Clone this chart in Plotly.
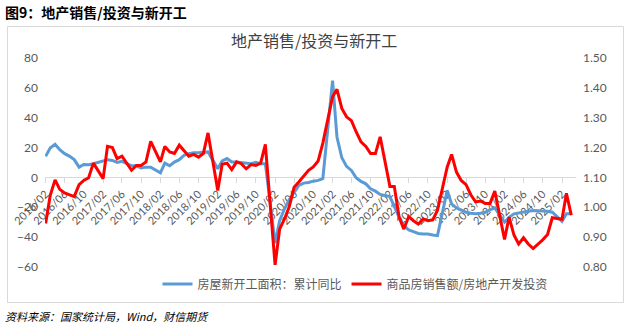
import plotly.graph_objects as go

# Monthly observations (January is merged into the Jan-Feb release, so it is absent)
months = [f"{y}-{m:02d}-01" for y in range(2016, 2025) for m in range(2, 13)] + [
    "2025-02-01", "2025-03-01", "2025-04-01"]

# 房屋新开工面积：累计同比 (%), left axis
new_starts_yoy = [
    14.1, 19.7, 22.2, 18.6, 15.9, 14.3, 11.9, 6.9, 8.7, 8.5, 9.2,          # 2016
    11.4, 11.9, 11.4, 10.1, 10.8, 9.2, 7.8, 7.8, 6.3, 6.9, 6.9,            # 2017
    3.1, 9.6, 7.8, 10.3, 11.9, 14.8, 15.9, 16.6, 16.6, 16.6, 17.1,         # 2018
    5.8, 11.0, 12.6, 10.3, 10.3, 9.9, 9.6, 9.2, 10.1, 9.2, 9.2,            # 2019
    -44.0, -28.9, -21.0, -15.0, -9.9, -5.4, -3.8, -3.4, -2.5, -2.0, -0.9,  # 2020
    64.8, 27.1, 13.2, 7.4, 4.7, -0.2, -2.7, -4.3, -7.6, -9.2, -11.4,       # 2021
    -12.8, -19.5, -26.7, -32.3, -35.2, -36.3, -37.5, -37.9, -37.9, -38.6, -39.0,  # 2022
    -8.7, -17.7, -20.4, -21.7, -23.3, -24.0, -24.4, -24.0, -23.3, -21.7, -20.4,   # 2023
    -30.0, -26.7, -24.4, -24.0, -23.3, -22.7, -22.2, -22.2, -22.2, -22.7, -23.3,  # 2024
    -29.4, -24.4, -24.4,                                                   # 2025
]

# 商品房销售额/房地产开发投资 (ratio), right axis
sales_to_invest = [
    0.946, 1.039, 1.092, 1.060, 1.048, 1.042, 1.036, 1.076, 1.090, 1.099, 1.148,  # 2016
    1.096, 1.204, 1.200, 1.163, 1.171, 1.146, 1.124, 1.140, 1.140, 1.152, 1.221,  # 2017
    1.152, 1.204, 1.185, 1.180, 1.208, 1.189, 1.171, 1.177, 1.168, 1.180, 1.249,  # 2018
    1.056, 1.144, 1.148, 1.126, 1.152, 1.146, 1.129, 1.143, 1.140, 1.148, 1.211,  # 2019
    0.807, 0.927, 0.961, 1.002, 1.067, 1.085, 1.103, 1.124, 1.135, 1.155, 1.215,  # 2020
    1.370, 1.395, 1.331, 1.303, 1.290, 1.253, 1.219, 1.204, 1.180, 1.180, 1.236,  # 2021
    1.070, 1.070, 0.966, 0.927, 0.969, 0.955, 0.944, 0.961, 0.955, 0.958, 0.990,  # 2022
    1.135, 1.177, 1.118, 1.090, 1.076, 1.042, 1.018, 1.021, 1.013, 1.013, 1.054,  # 2023
    0.892, 0.967, 0.907, 0.877, 0.898, 0.877, 0.862, 0.876, 0.891, 0.909, 0.965,  # 2024
    0.960, 1.047, 0.974,                                                          # 2025
]

BLUE = "#5B9BD5"
RED = "#FF0000"
GREY_TXT = "#595959"
AXIS_GREY = "#D9D9D9"
BASE_FONT = "Lato, 'Noto Sans CJK SC', sans-serif"
CJK_FONT = "'Noto Sans CJK SC', sans-serif"

W, H = 631, 324
PL, PR, PT, PB = 45, 576, 58, 267  # plot-area edges in pixels


def fx(px):
    return (px - PL) / (PR - PL)


def fy(py):
    return (PB - py) / (PB - PT)


fig = go.Figure()
fig.add_trace(go.Scatter(
    x=months, y=new_starts_yoy, name="房屋新开工面积：累计同比",
    mode="lines", line=dict(color=BLUE, width=3), yaxis="y"))
fig.add_trace(go.Scatter(
    x=months, y=sales_to_invest, name="商品房销售额/房地产开发投资",
    mode="lines", line=dict(color=RED, width=3), yaxis="y2"))

fig.update_layout(
    width=W, height=H,
    margin=dict(l=PL, r=W - PR, t=PT, b=H - PB, autoexpand=False),
    paper_bgcolor="white", plot_bgcolor="white",
    font=dict(family=BASE_FONT, size=11, color=GREY_TXT),
    showlegend=True,
    legend=dict(
        orientation="h", x=fx(355), xanchor="center", y=fy(284), yanchor="middle",
        font=dict(family=CJK_FONT, size=12, color=GREY_TXT),
        bgcolor="rgba(0,0,0,0)", itemwidth=30, tracegroupgap=0),
    xaxis=dict(
        type="date", range=["2016-01-28", "2025-05-01"],
        tickmode="linear", tick0="2016-02-01", dtick="M4", tickformat="%Y/%m",
        tickangle=-45, tickfont=dict(size=11, color=GREY_TXT),
        anchor="free", position=60 / 140,
        showline=True, linecolor=AXIS_GREY, linewidth=1,
        ticks="outside", ticklen=5, tickcolor=AXIS_GREY,
        showgrid=False, zeroline=False, layer="below traces"),
    yaxis=dict(
        range=[-60, 80], dtick=20, showgrid=False, zeroline=False,
        showline=False, ticks="", ticklabelstandoff=6,
        tickfont=dict(size=12, color=GREY_TXT)),
    yaxis2=dict(
        range=[0.8, 1.5], dtick=0.1, tickformat=".2f", overlaying="y", side="right",
        showgrid=False, zeroline=False, showline=False, ticks="", ticklabelstandoff=6,
        tickfont=dict(size=12, color=GREY_TXT)),
    shapes=[dict(
        type="rect", xref="paper", yref="paper",
        x0=fx(7.5), x1=fx(623.5), y0=fy(302.5), y1=fy(26.5),
        line=dict(color=AXIS_GREY, width=1), layer="below")],
    annotations=[
        dict(text="<b>图9：地产销售/投资与新开工</b>", xref="paper", yref="paper",
             x=fx(3), y=fy(12), xanchor="left", yanchor="middle", showarrow=False,
             font=dict(family=CJK_FONT, size=14, color="#000000")),
        dict(text="地产销售/投资与新开工", xref="paper", yref="paper",
             x=fx(314), y=fy(40), xanchor="center", yanchor="middle", showarrow=False,
             font=dict(family=CJK_FONT, size=16, color="#404040")),
        dict(text="<i>资料来源：国家统计局，Wind，财信期货</i>", xref="paper", yref="paper",
             x=fx(3), y=fy(316), xanchor="left", yanchor="middle", showarrow=False,
             font=dict(family=CJK_FONT, size=11, color="#000000")),
    ],
)

fig.write_html("out.html")
